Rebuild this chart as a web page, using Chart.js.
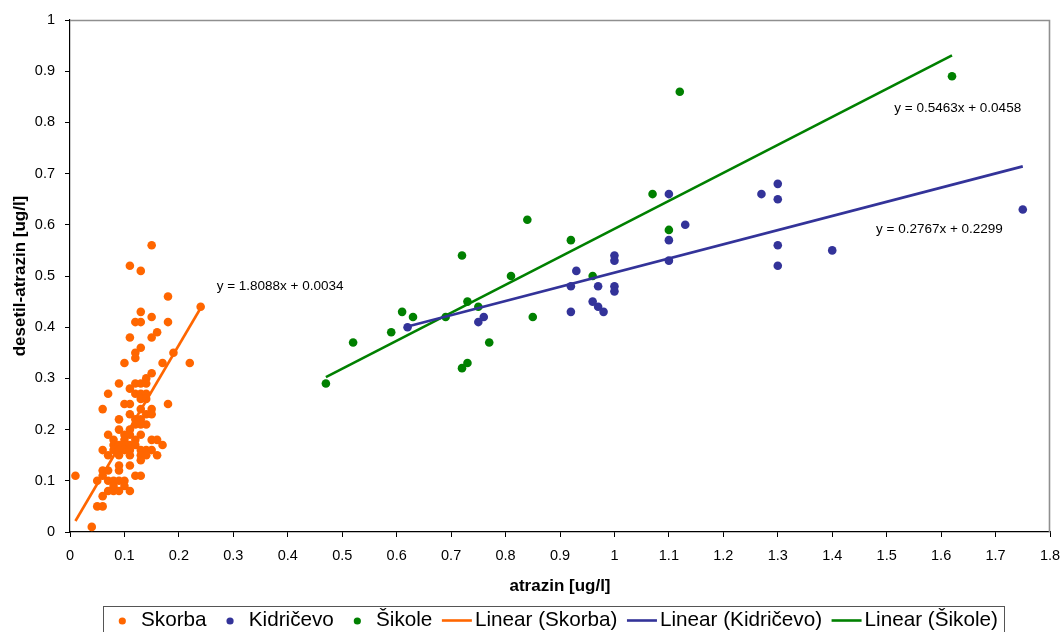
<!DOCTYPE html>
<html>
<head>
<meta charset="utf-8">
<script src="https://cdn.jsdelivr.net/npm/chart.js@4.4.1/dist/chart.umd.min.js"></script>
<style>
  html, body { margin: 0; padding: 0; background: #ffffff; }
  #wrap { width: 1064px; height: 632px; position: relative; }
</style>
</head>
<body>
<div id="wrap"><canvas id="c" width="1064" height="632"></canvas></div>
<script>
// ---------------- DATA ----------------
const seriesNames = ["Skorba", "Kidričevo", "Šikole"];
const trendNames = ["Linear (Skorba)", "Linear (Kidričevo)", "Linear (Šikole)"];

const skorbaX = [0.15,0.11,0.13,0.18,0.24,0.13,0.12,0.13,0.15,0.18,0.16,0.15,0.11,0.13,0.12,0.12,0.10,0.19,0.17,0.22,
  0.15,0.14,0.13,0.12,0.14,0.09,0.11,0.12,0.13,0.14,0.07,0.13,0.14,0.10,0.11,0.18,0.06,0.13,0.15,0.11,
  0.14,0.15,0.12,0.13,0.09,0.14,0.12,0.13,0.11,0.09,0.10,0.11,0.07,0.13,0.08,0.10,0.12,0.15,0.16,0.17,
  0.08,0.09,0.10,0.11,0.12,0.06,0.08,0.09,0.10,0.11,0.13,0.14,0.15,0.16,0.07,0.09,0.11,0.13,0.14,0.13,
  0.09,0.09,0.11,0.06,0.07,0.06,0.01,0.12,0.13,0.05,0.07,0.08,0.09,0.10,0.08,0.10,0.07,0.08,0.09,0.11,
  0.06,0.05,0.06,0.04];
const skorbaY = [0.56,0.52,0.51,0.46,0.44,0.43,0.41,0.41,0.42,0.41,0.39,0.38,0.38,0.36,0.35,0.34,0.33,0.35,0.33,0.33,
  0.31,0.30,0.29,0.29,0.29,0.29,0.28,0.27,0.27,0.27,0.27,0.26,0.26,0.25,0.25,0.25,0.24,0.24,0.24,0.23,
  0.23,0.23,0.22,0.22,0.22,0.21,0.21,0.21,0.20,0.20,0.19,0.19,0.19,0.19,0.18,0.18,0.18,0.18,0.18,0.17,
  0.17,0.17,0.17,0.17,0.17,0.16,0.16,0.16,0.16,0.16,0.16,0.16,0.16,0.15,0.15,0.15,0.15,0.15,0.15,0.14,
  0.13,0.12,0.13,0.12,0.12,0.11,0.11,0.11,0.11,0.10,0.10,0.10,0.10,0.10,0.09,0.09,0.08,0.08,0.08,0.08,
  0.07,0.05,0.05,0.01];

const kidricevoX = [0.62,0.75,0.76,0.92,0.92,0.93,0.96,0.97,0.97,0.98,1.00,1.00,1.00,1.00,1.10,1.10,1.10,1.13,1.27,1.30,1.30,1.30,1.30,1.40,1.75];
const kidricevoY = [0.40,0.41,0.42,0.43,0.48,0.51,0.45,0.44,0.48,0.43,0.54,0.53,0.48,0.47,0.66,0.57,0.53,0.60,0.66,0.68,0.65,0.56,0.52,0.55,0.63];

const sikoleX = [0.47,0.52,0.59,0.61,0.63,0.69,0.72,0.72,0.73,0.73,0.75,0.77,0.81,0.84,0.85,0.92,0.96,1.07,1.10,1.12,1.62];
const sikoleY = [0.29,0.37,0.39,0.43,0.42,0.42,0.54,0.32,0.45,0.33,0.44,0.37,0.50,0.61,0.42,0.57,0.50,0.66,0.59,0.86,0.89];

// Trend-line equations as printed on the chart (Skorba, Kidričevo, Šikole)
const trendSlopes = [1.8088, 0.2767, 0.5463];
const trendIntercepts = [0.0034, 0.2299, 0.0458];

// Axis tick settings
const xTickStep = 0.1, xMin = 0, xMax = 1.8;
const yTickStep = 0.1, yMin = 0, yMax = 1;

// ---------------- STYLE ----------------
const colors = ["#FF6600", "#333399", "#008000"];
const FONT = "'Liberation Sans', Arial, Helvetica, sans-serif";
// Equation label anchors (data coordinates of label's left/middle)
const eqAnchors = [{x: 0.2694, y: 0.479}, {x: 1.4804, y: 0.591}, {x: 1.514, y: 0.8275}];

// ---------------- BUILD ----------------
function pts(xs, ys) { return xs.map((x, i) => ({x: x, y: ys[i]})); }
const seriesX = [skorbaX, kidricevoX, sikoleX];
const seriesY = [skorbaY, kidricevoY, sikoleY];

const datasets = [];
for (let s = 0; s < 3; s++) {
  datasets.push({
    type: 'scatter',
    label: seriesNames[s],
    data: pts(seriesX[s], seriesY[s]),
    backgroundColor: colors[s],
    borderColor: colors[s],
    pointRadius: 4.3,
    pointHoverRadius: 4.3,
    pointBorderWidth: 0,
    showLine: false,
    order: 4 - s
  });
}
for (let s = 0; s < 3; s++) {
  const lo = Math.min(...seriesX[s]), hi = Math.max(...seriesX[s]);
  datasets.push({
    type: 'line',
    label: trendNames[s],
    data: [lo, hi].map(x => ({x: x, y: trendSlopes[s] * x + trendIntercepts[s]})),
    borderColor: colors[s],
    backgroundColor: colors[s],
    borderWidth: 2.6,
    pointRadius: 0,
    fill: false,
    tension: 0,
    order: 1
  });
}

const frameAndLabels = {
  id: 'frameAndLabels',
  beforeDatasetsDraw(chart) {
    const {ctx, chartArea: a} = chart;
    ctx.save();
    ctx.strokeStyle = '#8f8f8f';
    ctx.lineWidth = 1.6;
    ctx.beginPath();
    ctx.moveTo(a.left, a.top + 0.5);
    ctx.lineTo(a.right - 0.5, a.top + 0.5);
    ctx.lineTo(a.right - 0.5, a.bottom);
    ctx.stroke();
    ctx.restore();
  },
  afterDraw(chart) {
    const {ctx} = chart;
    const xs = chart.scales.x, ys = chart.scales.y;
    ctx.save();
    // trend equations
    ctx.font = "13.5px " + FONT;
    ctx.fillStyle = '#000';
    ctx.textAlign = 'left';
    ctx.textBaseline = 'middle';
    for (let s = 0; s < 3; s++) {
      const txt = 'y = ' + trendSlopes[s].toFixed(4) + 'x + ' + trendIntercepts[s].toFixed(4);
      ctx.fillText(txt, xs.getPixelForValue(eqAnchors[s].x), ys.getPixelForValue(eqAnchors[s].y));
    }
    // legend
    const boxL = 103.5, boxT = 606.5, boxR = 1004.5;
    ctx.strokeStyle = '#555';
    ctx.lineWidth = 1;
    ctx.strokeRect(boxL, boxT, boxR - boxL, 60);
    ctx.font = "20.7px " + FONT;
    const cy = 620.5;
    let cur = 118.3;
    const items = [];
    for (let s = 0; s < 3; s++) items.push({kind: 'dot', label: seriesNames[s], color: colors[s]});
    for (let s = 0; s < 3; s++) items.push({kind: 'line', label: trendNames[s], color: colors[s]});
    items.forEach((it, i) => {
      if (i > 0) cur += (it.kind === 'dot') ? 19.5 : 9.5;
      ctx.fillStyle = it.color;
      ctx.strokeStyle = it.color;
      if (it.kind === 'dot') {
        ctx.beginPath();
        ctx.arc(cur + 4, cy + 0.5, 3.6, 0, Math.PI * 2);
        ctx.fill();
        cur += 4 + 18.7;
      } else {
        ctx.lineWidth = 2.6;
        ctx.beginPath();
        ctx.moveTo(cur, cy);
        ctx.lineTo(cur + 30, cy);
        ctx.stroke();
        cur += 33;
      }
      ctx.fillStyle = '#000';
      ctx.fillText(it.label, cur, cy);
      cur += ctx.measureText(it.label).width;
    });
    ctx.restore();
  }
};

function fmt(v) { return String(Number(v.toFixed(1))); }

new Chart(document.getElementById('c'), {
  data: { datasets: datasets },
  options: {
    responsive: false,
    devicePixelRatio: 1,
    animation: false,
    layout: { padding: { left: 0, top: 20, right: 14, bottom: 0 } },
    plugins: {
      legend: { display: false },
      tooltip: { enabled: false }
    },
    scales: {
      x: {
        type: 'linear',
        position: 'bottom',
        min: xMin, max: xMax,
        ticks: {
          stepSize: xTickStep,
          color: '#000',
          font: { family: FONT, size: 14.5 },
          padding: 10,
          maxRotation: 0,
          autoSkip: false,
          callback: fmt
        },
        grid: { display: true, drawOnChartArea: false, drawTicks: true, tickLength: 5, color: '#000', lineWidth: 1 },
        border: { display: true, color: '#000', width: 1.2 },
        title: {
          display: true,
          text: 'atrazin [ug/l]',
          color: '#000',
          font: { family: FONT, size: 17, weight: 'bold' },
          padding: { top: 0, bottom: 35 }
        },
        afterFit(scale) { scale.height = 100; scale.paddingRight = 0; scale.paddingLeft = 0; }
      },
      y: {
        type: 'linear',
        position: 'left',
        min: yMin, max: yMax,
        ticks: {
          stepSize: yTickStep,
          color: '#000',
          font: { family: FONT, size: 14.5 },
          padding: 10,
          autoSkip: false,
          callback: fmt
        },
        grid: { display: true, drawOnChartArea: false, drawTicks: true, tickLength: 5, color: '#000', lineWidth: 1 },
        border: { display: true, color: '#000', width: 1.2 },
        title: {
          display: true,
          text: 'desetil-atrazin [ug/l]',
          color: '#000',
          font: { family: FONT, size: 17, weight: 'bold' },
          padding: { top: 10, bottom: 0 }
        },
        afterFit(scale) { scale.width = 70; scale.paddingTop = 0; scale.paddingBottom = 0; }
      }
    }
  },
  plugins: [frameAndLabels]
});
</script>
</body>
</html>
